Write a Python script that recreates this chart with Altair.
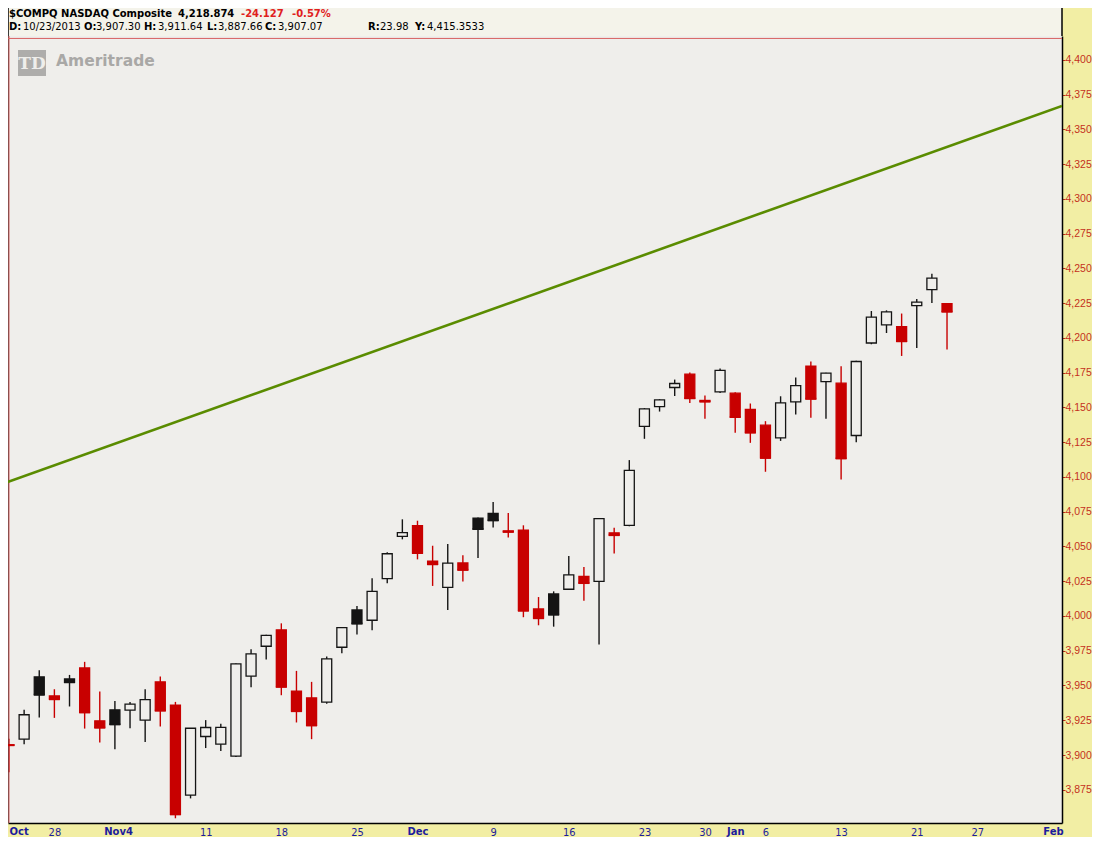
import altair as alt
import pandas as pd

# ---------------- data ----------------
dates = ["2013-10-23", "2013-10-24", "2013-10-25", "2013-10-28", "2013-10-29", "2013-10-30", "2013-10-31",
         "2013-11-01", "2013-11-04", "2013-11-05", "2013-11-06", "2013-11-07", "2013-11-08", "2013-11-11",
         "2013-11-12", "2013-11-13", "2013-11-14", "2013-11-15", "2013-11-18", "2013-11-19", "2013-11-20",
         "2013-11-21", "2013-11-22", "2013-11-25", "2013-11-26", "2013-11-27", "2013-11-29", "2013-12-02",
         "2013-12-03", "2013-12-04", "2013-12-05", "2013-12-06", "2013-12-09", "2013-12-10", "2013-12-11",
         "2013-12-12", "2013-12-13", "2013-12-16", "2013-12-17", "2013-12-18", "2013-12-19", "2013-12-20",
         "2013-12-23", "2013-12-24", "2013-12-26", "2013-12-27", "2013-12-30", "2013-12-31", "2014-01-02",
         "2014-01-03", "2014-01-06", "2014-01-07", "2014-01-08", "2014-01-09", "2014-01-10", "2014-01-13",
         "2014-01-14", "2014-01-15", "2014-01-16", "2014-01-17", "2014-01-21", "2014-01-22", "2014-01-23"]

opens = [3907.30, 3911.4, 3956.2, 3942.5, 3954.7, 3962.6, 3924.6, 3932.5, 3932.3, 3925.1, 3952.6,
         3935.8, 3871.2, 3913.3, 3907.8, 3899.2, 3956.7, 3978.2, 3990.0, 3946.0, 3941.1, 3938.0,
         3977.5, 4004.3, 3996.9, 4026.9, 4057.3, 4065.0, 4039.5, 4020.6, 4038.1, 4070.4, 4073.8,
         4061.2, 4061.8, 4005.0, 4015.8, 4019.2, 4028.5, 4024.9, 4059.8, 4065.2, 4136.3, 4150.6,
         4164.3, 4173.9, 4155.0, 4161.1, 4160.2, 4148.5, 4137.2, 4128.1, 4154.0, 4179.6, 4168.6,
         4167.4, 4129.8, 4196.3, 4209.3, 4208.1, 4223.2, 4234.7, 4224.6]

highs = [3911.64, 3932.5, 3961.0, 3947.3, 3957.6, 3967.0, 3945.6, 3938.9, 3938.2, 3947.3, 3956.4,
         3938.2, 3919.4, 3925.1, 3922.4, 3966.0, 3976.1, 3986.4, 3994.7, 3960.5, 3952.6, 3970.8,
         3992.0, 4007.2, 4027.1, 4045.8, 4069.5, 4068.5, 4050.5, 4051.7, 4043.6, 4070.9, 4081.9,
         4074.0, 4065.2, 4013.6, 4017.7, 4043.1, 4035.2, 4070.4, 4063.5, 4112.1, 4149.5, 4155.9,
         4170.0, 4175.1, 4158.5, 4178.0, 4160.9, 4152.8, 4140.1, 4158.0, 4171.5, 4183.0, 4174.9,
         4179.6, 4183.6, 4219.3, 4219.8, 4217.5, 4228.0, 4246.2, 4225.0]

lows = [3887.66, 3907.8, 3926.9, 3926.7, 3934.9, 3919.0, 3909.0, 3904.2, 3919.3, 3909.3, 3920.5,
        3854.5, 3868.8, 3905.0, 3902.8, 3898.5, 3948.8, 3968.6, 3943.0, 3923.4, 3911.4, 3936.8,
        3973.2, 3986.6, 3989.7, 4023.5, 4055.1, 4040.7, 4021.6, 4004.3, 4024.7, 4041.7, 4063.7,
        4056.5, 3999.1, 3993.3, 3992.3, 4018.9, 4011.0, 3979.4, 4045.0, 4064.5, 4127.4, 4147.0,
        4158.2, 4153.2, 4141.8, 4160.4, 4131.7, 4124.5, 4103.7, 4125.9, 4144.9, 4142.5, 4141.8,
        4098.2, 4125.0, 4195.4, 4203.5, 4187.0, 4192.7, 4225.1, 4191.6]

closes = [3907.07, 3928.96, 3943.36, 3940.13, 3952.34, 3930.62, 3919.71, 3922.04, 3936.59, 3939.86, 3931.95,
          3857.33, 3919.23, 3919.79, 3919.92, 3965.58, 3972.74, 3985.97, 3949.07, 3931.55, 3921.27, 3969.15,
          3991.65, 3994.57, 4017.75, 4044.75, 4059.89, 4045.26, 4037.20, 4038.00, 4033.16, 4062.52, 4068.75,
          4060.49, 4003.81, 3998.40, 4000.98, 4029.52, 4023.68, 4070.06, 4058.14, 4104.74, 4148.90, 4155.42,
          4167.18, 4156.59, 4154.20, 4176.59, 4143.07, 4131.91, 4113.68, 4153.18, 4165.61, 4156.19, 4174.66,
          4113.30, 4183.02, 4214.88, 4218.69, 4197.58, 4225.76, 4243.00, 4218.87]

prior_close = 3929.57  # close before the first candle

x_tick_index = [0, 3, 8, 13, 18, 23, 27, 32, 37, 42, 46, 48, 50, 55, 60, 64, 69]
x_tick_labels = ["Oct", "28", "Nov4", "11", "18", "25", "Dec", "9", "16", "23", "30",
                 "Jan", "6", "13", "21", "27", "Feb"]
month_labels = ["Oct", "Nov4", "Dec", "Jan", "Feb"]

y_ticks = [3875, 3900, 3925, 3950, 3975, 4000, 4025, 4050, 4075, 4100, 4125, 4150,
           4175, 4200, 4225, 4250, 4275, 4300, 4325, 4350, 4375, 4400]

trend_x = [-0.46, 69.6]
trend_y = [4094.9, 4366.8]

cursor_index = 0
cursor_value = 4415.3533

symbol_text = "$COMPQ NASDAQ Composite"
last_text = "4,218.874"
change_text = "-24.127"
pct_text = "-0.57%"
cursor_date = "10/23/2013"
r_text = "23.98"

# ---------------- build table ----------------
n = len(opens)
prev = [prior_close] + closes[:-1]
rows = []
for i in range(n):
    o, h, l, c = opens[i], highs[i], lows[i], closes[i]
    colr = "red" if c < prev[i] else "black"
    filled = c < o
    kind = ("fill_" if filled else "hollow_") + colr
    rows.append(dict(i=i, date=dates[i], open=o, high=h, low=l, close=c,
                     lo=min(o, c), hi=max(o, c), kind=kind, wick=colr, filled=filled))
df = pd.DataFrame(rows)

RED = "#c80000"
BLACK = "#141414"
PLOT_BG = "#efeeeb"
YLAB = "#c4301c"

xs = alt.Scale(domain=[-0.066, 69.6], nice=False, zero=False, padding=0)
ys = alt.Scale(domain=[3851.1, 4417.1], nice=False, zero=False, padding=0)

month_test = " || ".join(f"datum.value == {v}" for v, t in zip(x_tick_index, x_tick_labels) if t in month_labels)
label_expr = ""
for v, t in zip(x_tick_index, x_tick_labels):
    label_expr += f"datum.value == {v} ? '{t}' : "
label_expr += "''"

x_axis = alt.Axis(
    values=x_tick_index, labelExpr=label_expr, title=None, ticks=False, domain=True,
    domainColor="#000000", domainWidth=1.5, grid=False,
    labelPadding=3, labelColor="#1c1c9c", labelFlush=False, labelOverlap=False,
    labelFont={"condition": {"test": month_test, "value": "DejaVu Sans"},
               "value": "Liberation Sans Narrow, DejaVu Sans Condensed, Liberation Sans"},
    labelFontWeight={"condition": {"test": month_test, "value": "bold"}, "value": "normal"},
    labelFontSize={"condition": {"test": month_test, "value": 10}, "value": 11},
    labelAlign={"condition": {"test": "datum.value == 0", "value": "left"}, "value": "center"},
    labelOffset={"condition": {"test": "datum.value == 8", "value": -12}, "value": 0},
)
y_axis = alt.Axis(
    orient="right", values=y_ticks, format=",.0f", title=None, grid=False,
    tickColor=YLAB, tickSize=3, tickWidth=1, labelColor=YLAB, labelFont="Liberation Sans",
    labelFontSize=10.5, labelPadding=0, domainColor="#000000", domainWidth=1.5,
    labelFlush=False, labelOverlap=False, labelBound=False,
)

base = alt.Chart(df)

wicks = base.mark_rule(strokeWidth=1.4).encode(
    x=alt.X("i:Q", scale=xs, axis=x_axis),
    y=alt.Y("low:Q", scale=ys, axis=y_axis),
    y2="high:Q",
    color=alt.Color("wick:N", scale=alt.Scale(domain=["red", "black"], range=[RED, BLACK]), legend=None),
)

kinds = ["hollow_black", "hollow_red", "fill_black", "fill_red"]
bodies = base.mark_bar(size=10, strokeWidth=1.3).encode(
    x=alt.X("i:Q", scale=xs, axis=x_axis),
    y=alt.Y("lo:Q", scale=ys, axis=y_axis),
    y2="hi:Q",
    fill=alt.Fill("kind:N", scale=alt.Scale(domain=kinds, range=[PLOT_BG, PLOT_BG, BLACK, RED]), legend=None),
    stroke=alt.Stroke("kind:N", scale=alt.Scale(domain=kinds, range=[BLACK, RED, BLACK, RED]), legend=None),
)

doji = base.transform_filter("datum.filled").transform_calculate(
    xl="datum.i - 0.36", xr="datum.i + 0.36"
).mark_rule(strokeWidth=2).encode(
    x=alt.X("xl:Q", scale=xs, axis=x_axis),
    x2="xr:Q",
    y=alt.Y("close:Q", scale=ys, axis=y_axis),
    color=alt.Color("wick:N", scale=alt.Scale(domain=["red", "black"], range=[RED, BLACK]), legend=None),
)

trend_df = pd.DataFrame({"tx": trend_x, "ty": trend_y})
trend = alt.Chart(trend_df).mark_line(color="#5a8c00", strokeWidth=2.6, clip=True).encode(
    x=alt.X("tx:Q", scale=xs, axis=x_axis), y=alt.Y("ty:Q", scale=ys, axis=y_axis)
)

vcursor = alt.Chart(pd.DataFrame({"ci": [cursor_index]})).mark_rule(color="#d86060", strokeWidth=1).encode(
    x=alt.X("ci:Q", scale=xs, axis=x_axis)
)
hcursor = alt.Chart(pd.DataFrame({"cv": [cursor_value]})).mark_rule(color="#d86060", strokeWidth=1).encode(
    y=alt.Y("cv:Q", scale=ys, axis=y_axis)
)

one = alt.Data(values=[{"k": 1}])

header_bg = alt.Chart(one).mark_rect(color="#f4f3ea").encode(
    x=alt.value(0), x2=alt.value(1054), y=alt.value(-28), y2=alt.value(0)
)
left_border = alt.Chart(one).mark_rule(color="#000000", strokeWidth=1.5).encode(
    x=alt.value(0), y=alt.value(-28), y2=alt.value(787)
)
right_border = alt.Chart(one).mark_rule(color="#000000", strokeWidth=1.5).encode(
    x=alt.value(1054), y=alt.value(-28), y2=alt.value(0)
)
logo_box = alt.Chart(one).mark_rect(color="#aeadab").encode(
    x=alt.value(10), x2=alt.value(38), y=alt.value(14), y2=alt.value(40)
)


def txt(s, x, y, bold=False, color="#000000", size=10, font="DejaVu Sans", align="left"):
    return alt.Chart(alt.Data(values=[{"t": s}])).mark_text(
        align=align, baseline="middle", font=font, fontSize=size,
        fontWeight="bold" if bold else "normal", color=color
    ).encode(text="t:N", x=alt.value(x), y=alt.value(y))


logo_td = txt("TD", 24, 28, bold=True, color="#efeeeb", size=17, font="DejaVu Serif", align="center")
logo_name = txt("Ameritrade", 48, 25, bold=True, color="#a9a8a6", size=15.5)

HR = "#e0201c"
L1, L2 = -22, -9
header = [
    txt(symbol_text, 1, L1, bold=True),
    txt(last_text, 170, L1, bold=True),
    txt(change_text, 233, L1, bold=True, color=HR),
    txt(pct_text, 284, L1, bold=True, color=HR),
    txt("D:", 1, L2, bold=True),
    txt(cursor_date, 15, L2),
    txt("O:", 76, L2, bold=True),
    txt(f"{opens[0]:,.2f}", 88, L2),
    txt("H:", 136, L2, bold=True),
    txt(f"{highs[0]:,.2f}", 150, L2),
    txt("L:", 199, L2, bold=True),
    txt(f"{lows[0]:,.2f}", 210, L2),
    txt("C:", 257, L2, bold=True),
    txt(f"{closes[0]:,.2f}", 270, L2),
    txt("R:", 360, L2, bold=True),
    txt(r_text, 372, L2),
    txt("Y:", 407, L2, bold=True),
    txt(f"{cursor_value:,.4f}", 419, L2),
]

chart = alt.layer(
    wicks, header_bg, left_border, right_border, logo_box, logo_td, logo_name,
    hcursor, vcursor, trend, bodies, doji, *header
).properties(
    width=1054, height=787,
    autosize=alt.AutoSizeParams(type="none"),
    padding={"left": 0, "top": 28, "right": 30, "bottom": 14},
    background="#f2eea4",
).configure_view(fill=PLOT_BG, stroke=None).configure_axis(labelOverlap=False)

chart.save("out.html", embed_options={"renderer": "svg", "actions": False})
